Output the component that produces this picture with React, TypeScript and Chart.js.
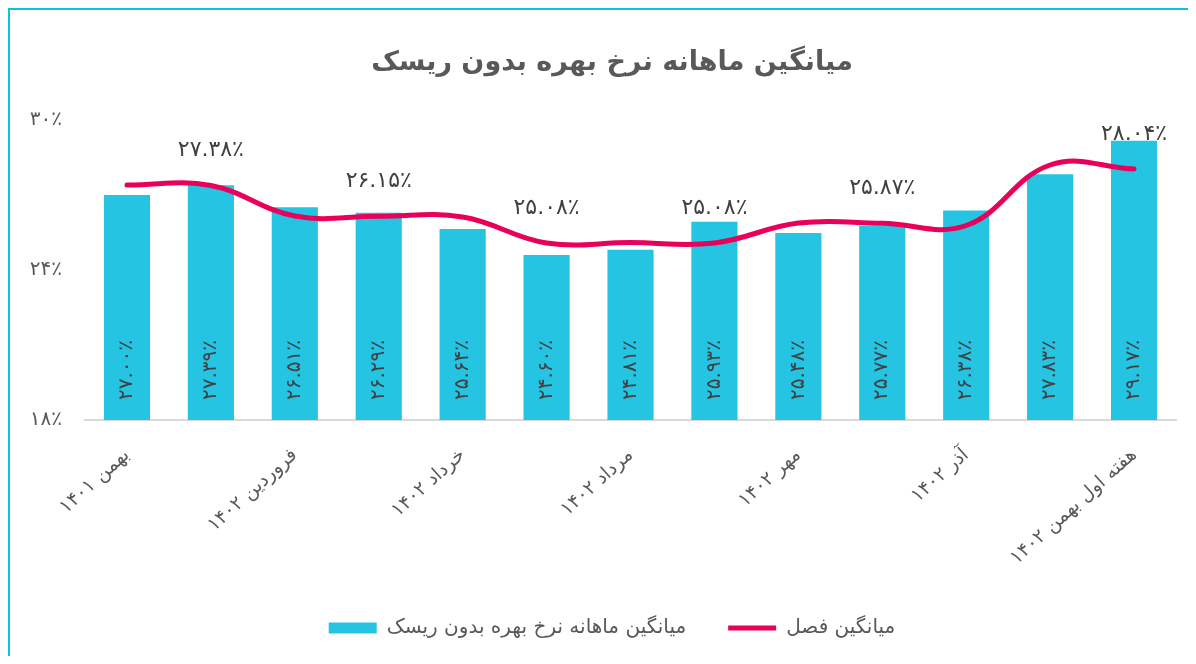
import React, { useEffect, useRef } from "react";
import { Chart, registerables } from "chart.js";

Chart.register(...registerables);

const chartTitle = "میانگین ماهانه نرخ بهره بدون ریسک";
const barSeriesName = "میانگین ماهانه نرخ بهره بدون ریسک";
const lineSeriesName = "میانگین فصل";

const categories = [
  "بهمن ۱۴۰۱",
  "اسفند ۱۴۰۱",
  "فروردین ۱۴۰۲",
  "اردیبهشت ۱۴۰۲",
  "خرداد ۱۴۰۲",
  "تیر ۱۴۰۲",
  "مرداد ۱۴۰۲",
  "شهریور ۱۴۰۲",
  "مهر ۱۴۰۲",
  "آبان ۱۴۰۲",
  "آذر ۱۴۰۲",
  "دی ۱۴۰۲",
  "هفته اول بهمن ۱۴۰۲",
];
const shownCategoryIndexes = [0, 2, 4, 6, 8, 10, 12];

const monthlyRate = [27.0, 27.39, 26.51, 26.29, 25.64, 24.6, 24.81, 25.93, 25.48, 25.77, 26.38, 27.83, 29.17];
const seasonAverage = [27.4, 27.38, 26.16, 26.15, 26.12, 25.08, 25.1, 25.08, 25.88, 25.87, 25.78, 28.2, 28.04];
const seasonLabelIndexes = [1, 3, 5, 7, 9, 12];

const yMin = 18;
const yMax = 30;
const yStep = 6;

const FONT = "'DejaVu Sans', sans-serif";
const BAR_COLOR = "#26C4E3";
const LINE_COLOR = "#E8005A";
const TEXT_DARK = "#404040";
const TEXT_GRAY = "#595959";

const faDigits = "۰۱۲۳۴۵۶۷۸۹";
function toFa(v: number, decimals: number): string {
  const s = v.toFixed(decimals);
  return s.replace(/[0-9]/g, (d) => faDigits[Number(d)]) + "٪";
}

const barLabelPlugin = {
  id: "barLabels",
  afterDatasetsDraw(chart: any) {
    const { ctx, chartArea } = chart;
    const meta = chart.getDatasetMeta(0);
    ctx.save();
    ctx.font = `20px ${FONT}`;
    ctx.fillStyle = TEXT_DARK;
    ctx.textAlign = "left";
    ctx.textBaseline = "middle";
    meta.data.forEach((bar: any, i: number) => {
      ctx.save();
      ctx.translate(bar.x, chartArea.bottom - 20);
      ctx.rotate(-Math.PI / 2);
      ctx.fillText(toFa(monthlyRate[i], 2), 0, 0);
      ctx.restore();
    });
    ctx.restore();
  },
};

const lineLabelPlugin = {
  id: "lineLabels",
  afterDatasetsDraw(chart: any) {
    const { ctx } = chart;
    const meta = chart.getDatasetMeta(1);
    ctx.save();
    ctx.font = `22px ${FONT}`;
    ctx.fillStyle = TEXT_DARK;
    ctx.textAlign = "center";
    ctx.textBaseline = "middle";
    seasonLabelIndexes.forEach((i) => {
      const pt = meta.data[i];
      ctx.fillText(toFa(seasonAverage[i], 2), pt.x, pt.y - 35);
    });
    ctx.restore();
  },
};

export default function App() {
  const ref = useRef<HTMLCanvasElement | null>(null);

  useEffect(() => {
    if (!ref.current) return;
    const chart = new Chart(ref.current, {
      type: "bar",
      data: {
        labels: categories,
        datasets: [
          {
            type: "bar",
            label: barSeriesName,
            data: monthlyRate,
            backgroundColor: BAR_COLOR,
            borderWidth: 0,
            barPercentage: 0.55,
            categoryPercentage: 1,
            pointStyle: "rect",
            order: 1,
          } as any,
          {
            type: "line",
            label: lineSeriesName,
            data: seasonAverage,
            borderColor: LINE_COLOR,
            backgroundColor: LINE_COLOR,
            borderWidth: 5,
            tension: 0.4,
            pointRadius: 0,
            pointStyle: "line",
            borderCapStyle: "round",
            fill: false,
            order: 0,
          } as any,
        ],
      },
      options: {
        animation: false,
        responsive: true,
        maintainAspectRatio: false,
        layout: { padding: { left: 0, right: 0, top: 0, bottom: 8 } },
        plugins: {
          title: {
            display: true,
            text: chartTitle,
            color: TEXT_GRAY,
            font: { size: 27, weight: "bold", family: FONT },
            padding: { top: 37, bottom: 40.6 },
          },
          legend: {
            display: true,
            position: "bottom",
            reverse: true,
            labels: {
              color: TEXT_GRAY,
              font: { size: 20, family: FONT },
              usePointStyle: true,
              pointStyleWidth: 48,
              boxHeight: 11,
              padding: 42,
            },
          },
          tooltip: { enabled: false },
        },
        scales: {
          x: {
            grid: { display: false },
            border: { display: true, color: "#D9D9D9", width: 2 },
            ticks: {
              autoSkip: false,
              maxRotation: 42,
              minRotation: 42,
              padding: 16,
              color: TEXT_GRAY,
              font: { size: 19, family: FONT },
              callback: (_v: any, i: number) => (shownCategoryIndexes.includes(i) ? categories[i] : ""),
            },
            afterFit: (scale: any) => {
              scale.height = 156;
            },
          },
          y: {
            min: yMin,
            max: yMax,
            grid: { display: false },
            border: { display: false },
            ticks: {
              stepSize: yStep,
              color: TEXT_GRAY,
              font: { size: 20, family: FONT },
              padding: 15,
              callback: (v: any) => toFa(Number(v), 0),
            },
            afterFit: (scale: any) => {
              scale.width = 75;
            },
          },
          yRightSpace: {
            type: "linear",
            position: "right",
            display: true,
            grid: { display: false },
            border: { display: false },
            ticks: { display: false },
            afterFit: (scale: any) => {
              scale.width = 38;
            },
          },
        },
      } as any,
      plugins: [barLabelPlugin, lineLabelPlugin],
    });
    return () => chart.destroy();
  }, []);

  return (
    <div
      style={{
        width: 1188,
        height: 648,
        boxSizing: "border-box",
        borderTop: "2px solid #0AC4D9",
        borderLeft: "2px solid #0AC4D9",
        position: "relative",
        overflow: "hidden",
      }}
    >
      <div style={{ width: 1204, height: 646, position: "relative" }}>
        <canvas ref={ref} />
      </div>
    </div>
  );
}
